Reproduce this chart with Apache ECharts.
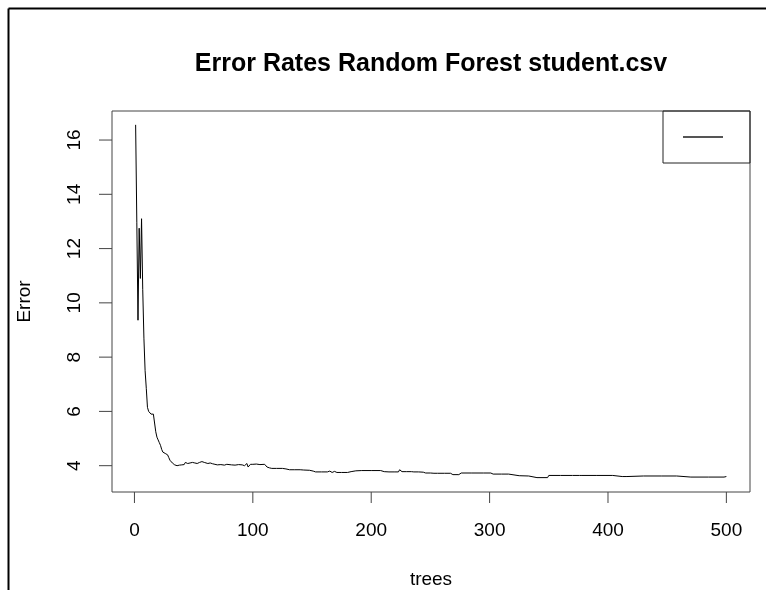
<!DOCTYPE html>
<html>
<head>
<meta charset="utf-8">
<script src="https://cdn.jsdelivr.net/npm/echarts@6/dist/echarts.min.js"></script>
<style>
  html, body { margin: 0; padding: 0; background: #fff; }
  #chart { width: 766px; height: 590px; }
</style>
</head>
<body>
<div id="chart"></div>
<script>
// trees (x) and OOB error rate (y)
const trees = [
  1, 2, 3, 4, 5, 6, 7, 8, 9, 10,
  11, 12, 13, 14, 15, 16, 17, 18, 19, 20,
  21, 22, 23, 24, 25, 26, 27, 28, 29, 30,
  31, 32, 33, 34, 35, 36, 37, 38, 39, 40,
  41, 42, 43, 44, 45, 46, 47, 48, 49, 50,
  51, 52, 53, 54, 55, 56, 57, 58, 59, 60,
  62, 64, 66, 68, 70, 73, 76, 78, 79, 82,
  85, 88, 91, 92, 93, 95, 96, 98, 100, 103,
  106, 110, 112, 114, 116, 120, 125, 128, 129, 131,
  135, 140, 143, 148, 151, 153, 158, 163, 165, 167,
  169, 171, 175, 180, 183, 187, 192, 200, 208, 211,
  215, 220, 223, 224, 226, 230, 234, 236, 240, 244,
  246, 250, 253, 256, 262, 267, 269, 274, 276, 285,
  295, 301, 303, 310, 316, 317, 325, 333, 334, 340,
  349, 350, 360, 370, 376, 377, 378, 390, 404, 405,
  412, 416, 417, 430, 445, 458, 459, 470, 485, 498,
  499, 500
];
const errRate = [
  16.56, 12.95, 9.36, 12.75, 10.9, 13.1, 10.5, 8.7, 7.5, 6.85,
  6.15, 6.0, 5.95, 5.9, 5.85, 5.9, 5.85, 5.25, 5.05, 4.95,
  4.85, 4.75, 4.6, 4.5, 4.47, 4.45, 4.42, 4.4, 4.3, 4.2,
  4.15, 4.1, 4.05, 4.03, 4.05, 4.0, 4.06, 4.02, 4.08, 4.03,
  4.1, 4.04, 4.12, 4.06, 4.08, 4.03, 4.1, 4.05, 4.12, 4.07,
  4.1, 4.04, 4.08, 4.06, 4.12, 4.1, 4.15, 4.18, 4.12, 4.1,
  4.08, 4.1, 4.07, 4.05, 4.03, 4.04, 4.02, 4.05, 4.03, 4.03,
  4.02, 4.04, 4.03, 4.07, 4.0, 4.08, 3.95, 4.05, 4.05, 4.06,
  4.04, 4.05, 3.95, 3.92, 3.9, 3.9, 3.9, 3.88, 3.83, 3.85,
  3.85, 3.85, 3.84, 3.83, 3.8, 3.77, 3.77, 3.77, 3.8, 3.75,
  3.79, 3.75, 3.75, 3.75, 3.78, 3.81, 3.82, 3.82, 3.82, 3.78,
  3.77, 3.77, 3.77, 3.85, 3.78, 3.78, 3.78, 3.77, 3.77, 3.76,
  3.73, 3.73, 3.72, 3.72, 3.72, 3.72, 3.67, 3.67, 3.73, 3.73,
  3.73, 3.73, 3.69, 3.69, 3.69, 3.63, 3.63, 3.62, 3.58, 3.56,
  3.56, 3.64, 3.64, 3.64, 3.64, 3.61, 3.64, 3.64, 3.64, 3.6,
  3.6, 3.6, 3.62, 3.62, 3.62, 3.62, 3.58, 3.58, 3.58, 3.58,
  3.59, 3.6
];
const xTicks = [0, 100, 200, 300, 400, 500];
const yTicks = [4, 6, 8, 10, 12, 14, 16];

// R's default 4% padding of the data range
const xMin = -18.96, xMax = 519.96;
const yMin = 3.03, yMax = 17.07;

const chart = echarts.init(document.getElementById('chart'), null, { renderer: 'canvas' });

const FONT = '"Liberation Sans", Arial, sans-serif';

// outward tick marks, placed through the axes' own scales
function tickSeries(values, dir) {
    return {
        type: 'custom',
        silent: true,
        clip: false,
        data: values.map(v => dir === 'x' ? [v, yMin] : [xMin, v]),
        renderItem: (params, api) => {
            const p = api.coord([api.value(0), api.value(1)]);
            const shape = dir === 'x'
                ? { x1: p[0], y1: p[1], x2: p[0], y2: p[1] + 11 }
                : { x1: p[0], y1: p[1], x2: p[0] - 13, y2: p[1] };
            return { type: 'line', shape, style: { stroke: '#444', lineWidth: 1 } };
        }
    };
}

chart.setOption({
    animation: false,
    backgroundColor: '#fff',
    title: {
        text: 'Error Rates Random Forest student.csv',
        left: 431,
        top: 52,
        padding: 0,
        textAlign: 'center',
        textStyle: { fontFamily: FONT, fontSize: 25, fontWeight: 'bold', color: '#000' }
    },
    legend: {
        left: 663,
        top: 111,
        padding: [25, 27, 25, 20],
        borderColor: '#222',
        borderWidth: 1,
        itemWidth: 40,
        itemHeight: 2,
        formatter: () => '',
        textStyle: { fontSize: 1 },
        data: [{ name: 'OOB', icon: 'rect', itemStyle: { color: '#555' } }]
    },
    grid: {
        left: 112, right: 16, top: 111, bottom: 98,
        containLabel: false,
        outerBoundsMode: 'none',
        show: true, borderColor: '#444', borderWidth: 1
    },
    xAxis: {
        type: 'value',
        min: xMin, max: xMax,
        name: 'trees',
        nameLocation: 'middle',
        nameGap: 78,
        nameTextStyle: { fontFamily: FONT, fontSize: 19, color: '#000' },
        axisLine: { show: false, onZero: false },
        splitLine: { show: false },
        axisTick: { show: false },
        axisLabel: { customValues: xTicks, margin: 29, fontFamily: FONT, fontSize: 19, color: '#000' }
    },
    yAxis: {
        type: 'value',
        min: yMin, max: yMax,
        name: 'Error',
        nameLocation: 'middle',
        nameRotate: 90,
        nameGap: 78,
        nameTextStyle: { fontFamily: FONT, fontSize: 19, color: '#000' },
        axisLine: { show: false, onZero: false },
        splitLine: { show: false },
        axisTick: { show: false },
        axisLabel: { customValues: yTicks, rotate: 90, margin: 28, fontFamily: FONT, fontSize: 19, color: '#000' }
    },
    series: [
        {
            name: 'OOB',
            type: 'line',
            data: trees.map((t, i) => [t, errRate[i]]),
            symbol: 'none',
            lineStyle: { color: '#000', width: 1 }
        },
        tickSeries(xTicks, 'x'),
        tickSeries(yTicks, 'y')
    ],
    // window frame of the screenshot
    graphic: [
        { type: 'line', shape: { x1: 8.5, y1: 8.5, x2: 8.5, y2: 590 }, style: { stroke: '#000', lineWidth: 2 } },
        { type: 'line', shape: { x1: 8.5, y1: 8.5, x2: 766, y2: 8.5 }, style: { stroke: '#000', lineWidth: 2 } }
    ]
});
</script>
</body>
</html>
